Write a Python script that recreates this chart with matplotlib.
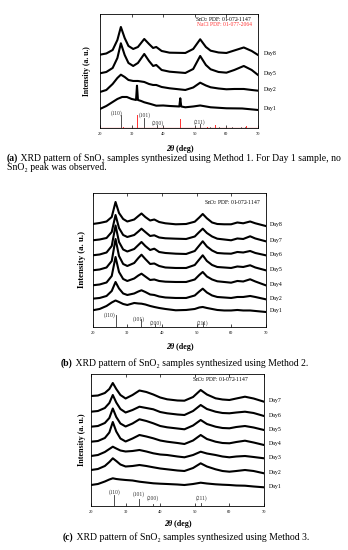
import matplotlib.pyplot as plt

plt.rcParams['font.family'] = ['Liberation Serif', 'DejaVu Serif']
plt.rcParams['mathtext.fontset'] = 'stix'

# ---------------------------------------------------------------
# Panel (a): Method 1 (intensity in arbitrary, stacked units)
# ---------------------------------------------------------------
tth_a = [20, 22, 24, 25.5, 26.6, 27.8, 29, 30.5, 32, 34, 35.5, 36.8, 37.8,
         39.5, 42, 47, 49.5, 51.7, 53.5, 55, 57.5, 60, 62.5, 65.5, 68, 70]
day8_a = [73.3, 74.5, 78, 88, 101, 90, 82, 79, 81, 89, 84, 80, 81,
          77, 75.3, 75, 79, 88.7, 81, 77.3, 75.5, 75, 77.5, 80.5, 77, 73]
day5_a = [54.7, 56, 60, 70, 84.7, 73, 65, 62, 65, 74, 67, 62, 63,
          58, 56.3, 55, 59, 72, 63, 58.7, 56, 55.3, 58, 62, 58, 53]
day2_a = [36, 38, 44, 50, 53.3, 51, 48, 47, 47, 46, 44, 43, 43,
          41, 39.7, 38, 40.5, 45.3, 42.5, 40.7, 39.5, 38.7, 39, 39, 38, 37.3]
# Day 1 has the two sharp NaCl reflections, so its own 2theta grid
tth_a_day1 = [20, 22, 24, 25.5, 27, 28.5, 30, 31.4, 31.7, 32, 33, 34, 36,
              37.8, 40, 42, 45.1, 45.4, 45.7, 47, 49.5, 51.7, 55, 60, 65, 70]
day1_a = [19, 22, 26, 29, 31, 31, 29, 28, 42.3, 28, 27, 25.7, 24,
          22.3, 22.5, 22, 21.5, 29.7, 21.5, 20.7, 21.5, 22.5, 20.7, 19.7, 19.5, 18]

# ---------------------------------------------------------------
# Panel (b): Method 2
# ---------------------------------------------------------------
tth_b = [20, 22, 24, 25.5, 26.6, 27.6, 28.8, 30, 32, 33.2, 34.1, 35.2, 36.6,
         37.8, 39.2, 41, 44, 47, 49.5, 50.8, 51.8, 53, 54.5, 56, 58, 60,
         61.8, 63.5, 65.5, 67, 70]
day8_b = [103, 104, 105.5, 110, 125, 114, 108, 105.5, 107.5, 111, 113.5, 110,
          106.5, 107.5, 105, 103.7, 102.7, 103, 105.3, 109.5, 113, 108.7,
          104.5, 103, 102.7, 102.7, 104.5, 103.7, 105.5, 103.7, 101]
day7_b = [86.7, 87.5, 89, 95, 112, 99, 92, 90, 92, 95.5, 98.3, 95, 91,
          91.7, 89.5, 88.7, 88.3, 88, 90.5, 95, 98.3, 94, 90.5, 88.3, 87.5,
          86.7, 88.5, 88, 90.7, 88.5, 85.7]
day6_b = [71.7, 72.5, 74.5, 81, 101.5, 85, 77.5, 75.5, 78, 82, 85, 81, 77,
          78.3, 75, 74, 73.3, 73, 76, 81.5, 85.7, 80.5, 76.5, 74, 73.5, 73.3,
          75, 74.5, 76, 74, 71.7]
day5_b = [56.7, 57.5, 59.5, 66, 88, 71, 63, 61, 64, 69, 72.3, 68, 63,
          63.5, 61, 59.5, 59, 59, 62, 67.5, 71.7, 66, 62, 60, 59.5, 59,
          60.5, 60, 61.7, 59.5, 56.7]
day4_b = [41.7, 42.5, 44.5, 51, 70, 55, 48, 46, 48.5, 51.5, 53.3, 50.5, 47,
          47.5, 46, 45.3, 45, 45, 47.5, 52, 55, 50.5, 47.5, 45.7, 45, 44.3,
          46, 45.5, 47.7, 45.5, 41.7]
day2_b = [28.3, 29, 31, 36, 45, 38.5, 33.5, 32, 33.5, 35.5, 36.7, 35, 32.5,
          32, 30.5, 29.5, 29, 29, 31.5, 35.5, 38.3, 34.5, 31.5, 30, 29.5, 29,
          30, 30, 31, 30, 27.7]
day1_b = [16.7, 18, 21, 24.5, 26.5, 25, 23, 22, 24, 23.5, 23.3, 22.5, 21,
          20, 19, 18, 16.7, 17, 18, 19.5, 20, 19, 18, 17, 16.5, 16.5,
          17, 16.5, 16.5, 16, 15]

# ---------------------------------------------------------------
# Panel (c): Method 3
# ---------------------------------------------------------------
tth_c = [20, 22, 24, 25.3, 26.3, 27.3, 28.5, 30, 32, 34, 36, 38, 40, 42,
         45, 47, 49.5, 51.7, 53.5, 56, 58, 60, 62, 64.5, 67, 70]
day7_c = [110, 110.5, 113, 117, 123, 117, 111, 107.5, 111, 115.5, 114, 111.5,
          108.5, 106.7, 105.5, 105.3, 109, 116, 111.5, 107.7, 106.5, 106,
          107.5, 109.3, 107.5, 104.3]
day6_c = [94.3, 95, 98, 103, 111, 103.5, 97, 93.5, 96, 99.3, 98, 96.7, 94,
          92.7, 91.5, 91, 95, 101, 97, 94.3, 93, 92.7, 93.5, 94.3, 93, 90]
day5_c = [79.3, 80, 83, 88, 97.5, 89, 82.5, 79.5, 82.5, 86.7, 85, 82.7, 80,
          78.7, 77.5, 76.7, 80.5, 86, 82, 79.3, 78, 77.7, 79, 80, 78.5, 76]
day4_c = [64.3, 65, 68, 73.5, 84, 74.5, 67.5, 64.5, 67.5, 71, 69.5, 67.7,
          65.5, 64.3, 63, 62, 65.5, 71, 67, 64.3, 63, 62.7, 64, 65.3, 63.5, 61]
day3_c = [50, 51, 54, 57, 59.3, 57.5, 55.5, 54.5, 55, 56, 54.5, 52.7, 51.5,
          51, 49.5, 48.7, 51, 54.3, 52.5, 51, 49.5, 48.7, 49.5, 50, 49, 47.7]
day2_c = [36, 37, 40, 44, 47.7, 45, 41.5, 39.5, 40, 41, 40, 38.7, 37.5,
          36.7, 35.5, 35, 38, 42.7, 39.5, 36.7, 35, 34.3, 35, 36, 35, 32.7]
day1_c = [21, 22, 24.5, 26.5, 27.7, 27, 26.5, 26, 25.5, 24.3, 23.5, 22.7,
          22.3, 22, 21.5, 21, 22, 23.3, 22.5, 21.7, 21.3, 21, 20.5, 20.3,
          19.5, 18.7]

# ---------------------------------------------------------------
# Reference stick patterns
# ---------------------------------------------------------------
sno2_pos = [26.6, 33.9, 37.95, 51.8]
sno2_hkl = ['(110)', '(101)', '(200)', '(211)']
sno2_int_a = [13, 10, 2.7, 3.5]
sno2_int_b = [12, 7.5, 3, 5]
sno2_int_c = [11, 7, 2.5, 3.5]
sno2_minor_pos = [54.75, 57.8, 61.9, 64.7, 65.95]
sno2_minor_int = [1.2, 0.8, 1.0, 1.2, 1.0]
nacl_pos = [27.37, 31.7, 45.45, 53.87, 56.48, 66.23]
nacl_int = [1.2, 13.3, 9.0, 0.8, 3.3, 2.0]

xticks = [20, 30, 40, 50, 60, 70]

FS_TICK = 3.2
FS_DAY = 4.2
FS_HKL = 4.0
RED = '#ff3030'


def draw_panel(fig, rect, ylim, curves, sticks, hkl_xy, ylab_fs, ylab_x,
               day_x, legend_xy, xlab_y):
  """ Draws one stacked XRD panel """
  ax = fig.add_axes(rect)
  # Stacked diffraction patterns with day labels on the right
  for tth, inten, day in curves:
    ax.plot(tth, inten, color='black', lw=1.5, solid_joinstyle='round')
    ax.text(day_x, inten[-1] + 1, day, fontsize=FS_DAY, va='center',
            ha='left', clip_on=False)
  # Reference sticks of SnO2
  for p, h in zip(sno2_pos, sticks):
    ax.plot([p, p], [0, h], color='#333333', lw=0.6)
  for (x, y), lab in zip(hkl_xy, sno2_hkl):
    ax.text(x, y, lab, fontsize=FS_HKL, ha='center', va='center',
            color='#333333')
  ax.text(legend_xy[0], legend_xy[1], 'SnO$_2$ PDF: 01-072-1147',
          fontsize=4.0, ha='right', va='center')
  # Axes styling
  ax.set_xlim(20, 70)
  ax.set_ylim(*ylim)
  ax.set_xticks(xticks)
  ax.set_yticks([])
  ax.tick_params(axis='x', direction='in', top=True, length=2, width=0.5,
                 labelsize=FS_TICK, pad=3)
  for sp in ax.spines.values():
    sp.set_linewidth(0.6)
  ax.set_ylabel('Intensity (a. u.)', fontsize=ylab_fs, fontweight='bold')
  ax.yaxis.set_label_coords(ylab_x, 0.5)
  # x label: italic 2theta followed by upright (deg)
  t1 = ax.text(0.47, xlab_y, '2θ', transform=ax.transAxes, fontsize=5.8,
               fontweight='bold', fontstyle='italic', ha='right',
               va='center')
  ax.annotate(' (deg)', xy=(1, 0.5), xycoords=t1, fontsize=5.8,
              fontweight='bold', ha='left', va='center')
  return ax


def caption(fig, xpx, ypx, tag, body, fs):
  """ Bold panel tag followed by plain caption text """
  t = fig.text(xpx / 348, 1 - ypx / 550, tag, fontsize=fs,
               fontweight='bold', va='center', ha='left')
  fig.add_artist(plt.Annotation(body, xy=(1, 0.5), xycoords=t, fontsize=fs,
                                va='center', ha='left',
                                annotation_clip=False))


fig = plt.figure(figsize=(3.48, 5.5), dpi=100)

# ---- (a)
ax_a = draw_panel(
    fig, [0.2874, 0.7673, 0.454, 0.2073], (0, 114),
    [(tth_a, day8_a, 'Day8'), (tth_a, day5_a, 'Day5'),
     (tth_a, day2_a, 'Day2'), (tth_a_day1, day1_a, 'Day1')],
    sno2_int_a, [(25.3, 15), (34.0, 12.5), (38.3, 4.7), (51.6, 6.3)],
    5.5, -0.06, 71.9, (68.0, 108.7), -0.18)
for p, h in zip(sno2_minor_pos, sno2_minor_int):
  ax_a.plot([p, p], [0, h], color='#333333', lw=0.5)
for p, h in zip(nacl_pos, nacl_int):
  ax_a.plot([p, p], [0, h], color=RED, lw=0.7)
ax_a.axhline(0.4, color=RED, lw=0.9)
ax_a.text(68.0, 103, 'NaCl PDF: 01-077-2064', fontsize=4.0, ha='right',
          va='center', color=RED)

# ---- (b)
draw_panel(
    fig, [0.2664, 0.4055, 0.4971, 0.2436], (0, 134),
    [(tth_b, day8_b, 'Day8'), (tth_b, day7_b, 'Day7'),
     (tth_b, day6_b, 'Day6'), (tth_b, day5_b, 'Day5'),
     (tth_b, day4_b, 'Day4'), (tth_b, day2_b, 'Day2'),
     (tth_b, day1_b, 'Day1')],
    sno2_int_b, [(24.8, 11.7), (33.2, 8.3), (38.3, 3.7), (51.8, 4.0)],
    6.3, -0.04, 71.1, (68.4, 124.7), -0.15)

# ---- (c)
draw_panel(
    fig, [0.2615, 0.08, 0.4971, 0.24], (0, 132),
    [(tth_c, day7_c, 'Day7'), (tth_c, day6_c, 'Day6'),
     (tth_c, day5_c, 'Day5'), (tth_c, day4_c, 'Day4'),
     (tth_c, day3_c, 'Day3'), (tth_c, day2_c, 'Day2'),
     (tth_c, day1_c, 'Day1')],
    sno2_int_c, [(26.7, 14.3), (33.7, 12.3), (38.0, 7.5), (52.0, 8.0)],
    5.8, -0.03, 71.4, (65.7, 126), -0.14)

# ---- captions
CAP_FS = 7.0
caption(fig, 7, 158, '(a)', ' XRD pattern of SnO₂ samples synthesized using '
        'Method 1. For Day 1 sample, no', CAP_FS)
fig.text(7 / 348, 1 - 167 / 550, 'SnO₂ peak was observed.', fontsize=CAP_FS,
         va='center')
caption(fig, 61, 363, '(b)', ' XRD pattern of SnO₂ samples synthesized using '
        'Method 2.', CAP_FS)
caption(fig, 63, 537, '(c)', ' XRD pattern of SnO₂ samples synthesized using '
        'Method 3.', CAP_FS)

fig.savefig('out.png', dpi=100)
